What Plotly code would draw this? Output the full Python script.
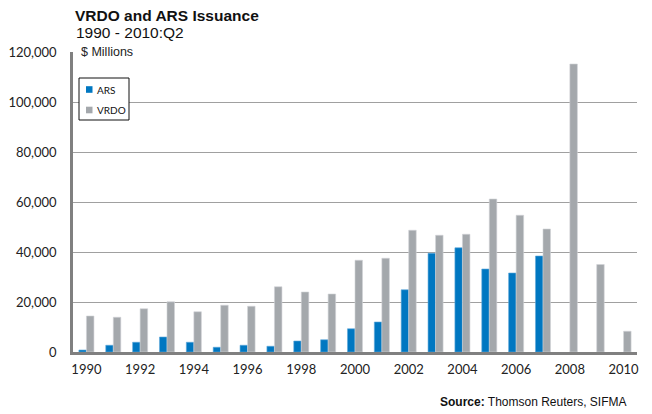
import plotly.graph_objects as go

years = list(range(1990, 2011))
ars = [800, 2700, 3900, 6000, 3900, 1900, 2700, 2300, 4400, 4900,
       9300, 12000, 24900, 39500, 41700, 33200, 31600, 38400, None, None, None]
vrdo = [14400, 13900, 17300, 20100, 16100, 18700, 18300, 26100, 24000, 23200,
        36700, 37500, 48700, 46700, 47100, 61200, 54700, 49200, 115200, 35000, 8300]
x_ticks = list(range(1990, 2011, 2))
y_ticks = [0, 20000, 40000, 60000, 80000, 100000, 120000]

ARS_C = "#0077C1"
VRDO_C = "#A4A8AC"
tick_font = dict(family="Lato, Open Sans, sans-serif", size=13, color="#222222")
head_font = "Liberation Sans, Arial, sans-serif"
narrow_font = "Liberation Sans Narrow, Liberation Sans, Arial, sans-serif"

# The page adds an 8px body margin, so the figure is sized to fit inside it.
OFF = 8
W, H = 644, 406
L, R, T, B = 65, 15, 44, 62
pw, ph = W - L - R, H - T - B
def px(xp):  # page pixel -> paper x
    return (xp - OFF - L) / pw
def py(yp):  # page pixel -> paper y
    return (H - B - (yp - OFF)) / ph

fig = go.Figure()
fig.add_trace(go.Bar(x=years, y=ars, name="ARS",
                     marker=dict(color=ARS_C, line=dict(color="#5FA8DA", width=0.6)), showlegend=False))
fig.add_trace(go.Bar(x=years, y=vrdo, name="VRDO",
                     marker=dict(color=VRDO_C, line=dict(color="#D2D4D6", width=0.6)), showlegend=False))

fig.update_layout(
    width=W, height=H,
    margin=dict(l=L, r=R, t=T, b=B),
    paper_bgcolor="white", plot_bgcolor="white",
    barmode="group", bargap=0.44, bargroupgap=0,
    font=tick_font,
    xaxis=dict(range=[1989.5, 2010.5], tickvals=x_ticks, ticktext=[str(t) for t in x_ticks],
               showgrid=False, showline=True, linecolor="#808080", linewidth=2.5,
               ticks="", ticklabelstandoff=4, tickfont=tick_font, fixedrange=True, zeroline=False,
               automargin=False),
    yaxis=dict(range=[0, 120000], tickvals=y_ticks, ticktext=[f"{v:,}" for v in y_ticks],
               showgrid=True, gridcolor="#A0A0A0", gridwidth=1.2,
               showline=True, linecolor="#808080", linewidth=2.5,
               ticks="", ticklabelstandoff=11, tickfont=tick_font, zeroline=False,
               automargin=False),
)

# "$ Millions" label over the top gridline
fig.add_annotation(x=0, y=1, xref="paper", yref="paper", xanchor="left", yanchor="middle",
                   xshift=5, text="$ Millions", showarrow=False, bgcolor="white",
                   font=dict(family=head_font, size=12.5, color="#222222"), borderpad=2)

# Titles and source
fig.add_annotation(x=px(74), y=py(16), xref="paper", yref="paper", text="<b>VRDO and ARS Issuance</b>",
                   showarrow=False, xanchor="left", yanchor="middle", borderpad=0,
                   font=dict(family=narrow_font, size=15.5, color="#111111"))
fig.add_annotation(x=px(74), y=py(32), xref="paper", yref="paper", text="1990 - 2010:Q2",
                   showarrow=False, xanchor="left", yanchor="middle",
                   font=dict(family=head_font, size=15.5, color="#111111"))
fig.add_annotation(x=px(629), y=py(402), xref="paper", yref="paper",
                   text="<b>Source:</b> Thomson Reuters, SIFMA",
                   showarrow=False, xanchor="right", yanchor="middle",
                   font=dict(family=head_font, size=12, color="#111111"))

# Legend box
fig.add_shape(type="rect", xref="paper", yref="paper", x0=px(79), x1=px(129), y0=py(120), y1=py(78),
              line=dict(color="#111111", width=1), fillcolor="white", layer="above")
for name, col, yc in [("ARS", ARS_C, 89.5), ("VRDO", VRDO_C, 110)]:
    fig.add_shape(type="rect", xref="paper", yref="paper", x0=px(86), x1=px(92.5),
                  y0=py(yc + 3.3), y1=py(yc - 3.3), line=dict(width=0), fillcolor=col, layer="above")
    fig.add_annotation(x=px(95), y=py(yc), xref="paper", yref="paper", text=name, showarrow=False,
                       xanchor="left", yanchor="middle",
                       font=dict(family="Lato, Open Sans, sans-serif", size=10, color="#111111"))

fig.write_html("out.html")
